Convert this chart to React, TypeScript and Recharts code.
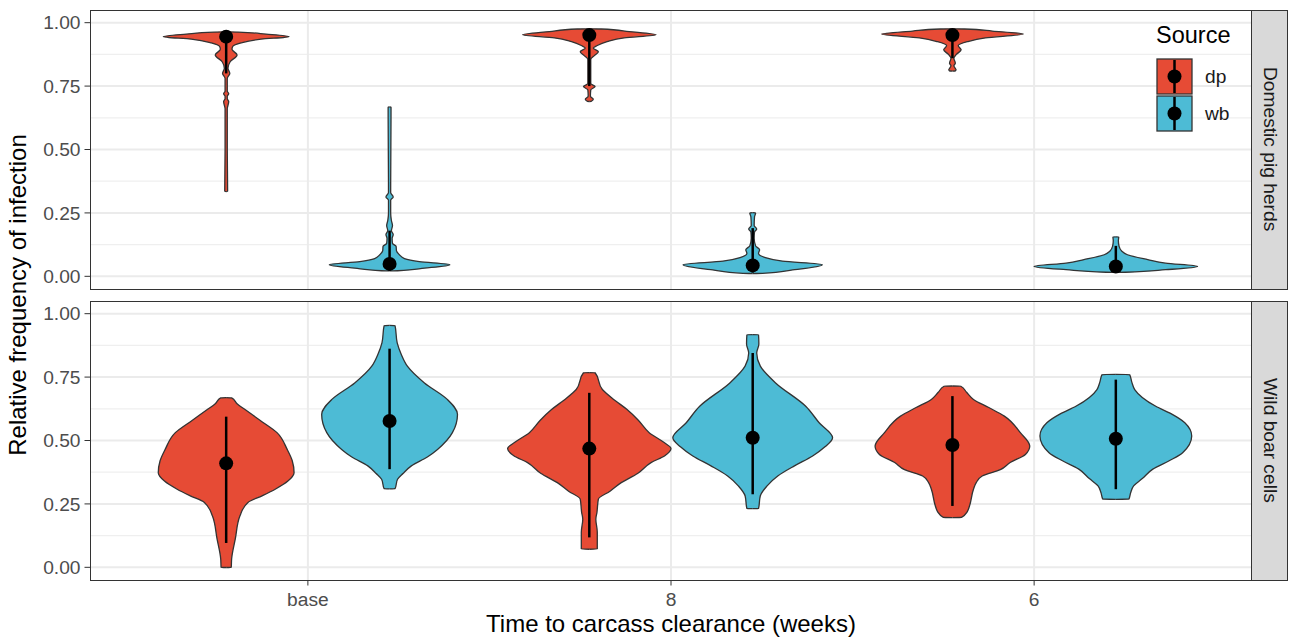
import { ComposedChart, Area, Scatter, ErrorBar, XAxis, YAxis, CartesianGrid, Legend } from "recharts";

const categories = ["base", "8", "6"];
const categoryX = [1, 2, 3];
const sources = ["dp", "wb"];
const sourceFill = ["#E64B35", "#4DBBD5"];
const facets = ["Domestic pig herds", "Wild boar cells"];
const yTicks = [0, 0.25, 0.5, 0.75, 1];
const yMinor = [0.125, 0.375, 0.625, 0.875];
const dodge = 0.225;

// violin outlines: [relative frequency, half width in x units]
const pigDpBase = [[0.335, 0.004], [0.5, 0.003], [0.66, 0.003], [0.689, 0.007], [0.7, 0.003], [0.71, 0.003], [0.72, 0.007], [0.73, 0.003], [0.78, 0.003], [0.8, 0.01], [0.82, 0.005], [0.846, 0.011], [0.873, 0.03], [0.895, 0.016], [0.906, 0.018], [0.92, 0.041], [0.935, 0.096], [0.945, 0.173], [0.955, 0.11], [0.963, 0.033]];
const pigDp8 = [[0.69, 0.005], [0.698, 0.011], [0.71, 0.003], [0.735, 0.004], [0.748, 0.016], [0.76, 0.004], [0.855, 0.004], [0.87, 0.014], [0.885, 0.025], [0.9, 0.011], [0.91, 0.022], [0.925, 0.049], [0.94, 0.096], [0.952, 0.184], [0.965, 0.11], [0.975, 0.033]];
const pigDp6 = [[0.81, 0.008], [0.814, 0.01], [0.83, 0.004], [0.84, 0.008], [0.86, 0.004], [0.875, 0.011], [0.893, 0.024], [0.91, 0.016], [0.925, 0.041], [0.94, 0.091], [0.955, 0.195], [0.967, 0.11], [0.975, 0.033]];
const pigWbBase = [[0.022, 0.022], [0.032, 0.096], [0.046, 0.166], [0.058, 0.082], [0.07, 0.041], [0.085, 0.027], [0.1, 0.019], [0.118, 0.018], [0.13, 0.008], [0.15, 0.007], [0.165, 0.01], [0.18, 0.005], [0.2, 0.008], [0.22, 0.005], [0.25, 0.003], [0.3, 0.003], [0.313, 0.01], [0.33, 0.003], [0.667, 0.004]];
const pigWb8 = [[0.012, 0.027], [0.025, 0.11], [0.046, 0.192], [0.06, 0.082], [0.075, 0.033], [0.09, 0.016], [0.105, 0.019], [0.12, 0.008], [0.15, 0.004], [0.175, 0.005], [0.187, 0.011], [0.2, 0.004], [0.235, 0.005], [0.25, 0.008]];
const pigWb6 = [[0.016, 0.027], [0.026, 0.137], [0.039, 0.225], [0.052, 0.137], [0.066, 0.088], [0.085, 0.032], [0.1, 0.016], [0.118, 0.009], [0.14, 0.007], [0.155, 0.008]];

const boarDpBase = [[0.0, 0.014], [0.033, 0.015], [0.111, 0.025], [0.203, 0.038], [0.256, 0.06], [0.282, 0.099], [0.308, 0.135], [0.34, 0.17], [0.373, 0.187], [0.42, 0.182], [0.465, 0.168], [0.531, 0.14], [0.58, 0.093], [0.622, 0.052], [0.645, 0.03], [0.668, 0.015]];
const boarDp8 = [[0.072, 0.022], [0.138, 0.022], [0.19, 0.018], [0.216, 0.021], [0.269, 0.025], [0.3, 0.057], [0.334, 0.088], [0.37, 0.133], [0.413, 0.17], [0.44, 0.208], [0.468, 0.225], [0.495, 0.203], [0.531, 0.165], [0.58, 0.135], [0.622, 0.104], [0.66, 0.069], [0.701, 0.036], [0.767, 0.016]];
const boarDp6 = [[0.197, 0.025], [0.22, 0.041], [0.242, 0.047], [0.308, 0.058], [0.335, 0.066], [0.36, 0.082], [0.385, 0.132], [0.413, 0.159], [0.445, 0.201], [0.478, 0.213], [0.531, 0.187], [0.596, 0.143], [0.63, 0.1], [0.662, 0.058], [0.69, 0.039], [0.714, 0.023]];
const boarWbBase = [[0.31, 0.015], [0.347, 0.022], [0.37, 0.037], [0.4, 0.06], [0.435, 0.104], [0.465, 0.132], [0.531, 0.173], [0.603, 0.187], [0.662, 0.159], [0.727, 0.096], [0.793, 0.049], [0.84, 0.032], [0.885, 0.021], [0.953, 0.015]];
const boarWb8 = [[0.232, 0.016], [0.282, 0.021], [0.32, 0.039], [0.36, 0.069], [0.4, 0.115], [0.439, 0.165], [0.475, 0.199], [0.511, 0.22], [0.57, 0.183], [0.635, 0.146], [0.727, 0.063], [0.793, 0.021], [0.845, 0.011], [0.88, 0.017], [0.917, 0.016]];
const boarWb6 = [[0.269, 0.036], [0.295, 0.041], [0.321, 0.049], [0.35, 0.073], [0.387, 0.102], [0.42, 0.147], [0.452, 0.184], [0.518, 0.209], [0.57, 0.19], [0.605, 0.153], [0.635, 0.11], [0.701, 0.052], [0.73, 0.044], [0.76, 0.038]];

// point ranges: [point, low, high] for base, 8, 6
const pigDpRange = [[0.945, 0.8, 0.955], [0.951, 0.75, 0.972], [0.951, 0.86, 0.97]];
const pigWbRange = [[0.049, 0.022, 0.18], [0.043, 0.015, 0.19], [0.039, 0.015, 0.12]];
const boarDpRange = [[0.41, 0.096, 0.594], [0.468, 0.118, 0.688], [0.482, 0.242, 0.675]];
const boarWbRange = [[0.577, 0.387, 0.862], [0.511, 0.288, 0.845], [0.507, 0.308, 0.74]];

function buildPanel(dp, wb, dpRange, wbRange) {
  const rows = [];
  const violins = [];
  const points = [];
  categories.forEach((cat, i) => {
    [dp[i], wb[i]].forEach((shape, j) => {
      const c = categoryX[i] + (j === 0 ? -dodge : dodge);
      const key = `${sources[j]}_${cat}`;
      violins.push({ key, fill: sourceFill[j] });
      // close the outline at both ends
      rows.push({ y: shape[0][0] - 0.0008, [key]: [c, c] });
      shape.forEach(([y, hw]) => rows.push({ y, [key]: [c - hw, c + hw] }));
      rows.push({ y: shape[shape.length - 1][0] + 0.0008, [key]: [c, c] });
      const [p, lo, hi] = (j === 0 ? dpRange : wbRange)[i];
      points.push({ x: c, y: p, err: [p - lo, hi - p] });
    });
  });
  rows.sort((a, b) => a.y - b.y);
  return { rows, violins, points };
}

const pigPanel = buildPanel([pigDpBase, pigDp8, pigDp6], [pigWbBase, pigWb8, pigWb6], pigDpRange, pigWbRange);
const boarPanel = buildPanel([boarDpBase, boarDp8, boarDp6], [boarWbBase, boarWb8, boarWb6], boarDpRange, boarWbRange);

const tickStyle = { fill: "#4D4D4D", fontSize: 19.2 };

const Dot = (p) => <circle cx={p.cx} cy={p.cy} r={7} fill="#000" />;

const LegendBox = () => (
  <svg width={110} height={125}>
    <text x={6} y={33} fontSize={23.5} fill="#000">Source</text>
    {sources.map((s, i) => (
      <g key={s}>
        <rect x={7} y={49 + i * 37} width={35} height={35} fill={sourceFill[i]} stroke="#333" strokeWidth={1.3} />
        <line x1={24.5} x2={24.5} y1={50 + i * 37} y2={83 + i * 37} stroke="#000" strokeWidth={2.5} />
        <circle cx={24.5} cy={66.5 + i * 37} r={7} fill="#000" />
        <text x={55} y={66.5 + i * 37} dy="0.35em" fontSize={19.2} fill="#1A1A1A">{s}</text>
      </g>
    ))}
  </svg>
);

function Panel({ data, height, bottomAxis, legend }) {
  return (
    <ComposedChart
      layout="vertical"
      width={1290}
      height={height}
      data={data.rows}
      margin={{ top: 10, right: 38, bottom: bottomAxis ? 0 : 1, left: 0 }}
    >
      <CartesianGrid horizontalValues={yMinor} vertical={false} stroke="#EFEFEF" strokeWidth={1.2} />
      <CartesianGrid horizontalValues={yTicks} verticalValues={categoryX} stroke="#EBEBEB" strokeWidth={2} />
      <XAxis
        type="number"
        dataKey="x"
        domain={[0.4, 3.6]}
        ticks={categoryX}
        allowDataOverflow
        hide={!bottomAxis}
        height={61}
        tickFormatter={(v) => categories[categoryX.indexOf(v)]}
        tick={tickStyle}
        tickLine={{ stroke: "#333" }}
        tickSize={5.5}
        tickMargin={7}
        axisLine={false}
        label={{ value: "Time to carcass clearance (weeks)", position: "insideBottom", offset: 9, fill: "#000", fontSize: 24 }}
      />
      <YAxis
        type="number"
        dataKey="y"
        reversed
        domain={[-0.05, 1.05]}
        ticks={yTicks}
        allowDataOverflow
        width={90}
        tickFormatter={(v) => v.toFixed(2)}
        tick={tickStyle}
        tickLine={{ stroke: "#333" }}
        tickSize={5.5}
        tickMargin={4}
        axisLine={false}
      />
      {data.violins.map((v) => (
        <Area
          key={v.key}
          type="monotone"
          dataKey={(row) => row[v.key] ?? [null, null]}
          connectNulls
          fill={v.fill}
          fillOpacity={1}
          stroke="#333"
          strokeWidth={1.3}
          dot={false}
          activeDot={false}
          isAnimationActive={false}
        />
      ))}
      <Scatter data={data.points} shape={Dot} isAnimationActive={false}>
        <ErrorBar dataKey="err" direction="y" width={0} stroke="#000" strokeWidth={2.5} isAnimationActive={false} />
      </Scatter>
      {legend && (
        <Legend
          layout="vertical"
          align="center"
          verticalAlign="middle"
          wrapperStyle={{ top: 10, left: 1150, width: 110, height: 125 }}
          content={() => <LegendBox />}
        />
      )}
    </ComposedChart>
  );
}

const stripStyle = {
  position: "absolute",
  left: 1251,
  width: 37,
  height: 280,
  boxSizing: "border-box",
  background: "#D9D9D9",
  border: "1.3px solid #333",
  writingMode: "vertical-rl",
  display: "flex",
  alignItems: "center",
  justifyContent: "center",
  fontSize: 19.2,
  color: "#1A1A1A",
};

const borderStyle = {
  position: "absolute",
  left: 89.5,
  width: 1162,
  height: 280,
  boxSizing: "border-box",
  border: "1.3px solid #333",
  pointerEvents: "none",
};

export default function App() {
  return (
    <div style={{ position: "absolute", left: 0, top: 0, width: 1290, height: 641, background: "#fff", fontFamily: "'Liberation Sans', Arial, sans-serif", overflow: "hidden" }}>
      <div style={{ position: "absolute", left: 0, top: 0 }}>
        <Panel data={pigPanel} height={290} bottomAxis={false} legend />
      </div>
      <div style={{ position: "absolute", left: 0, top: 291 }}>
        <Panel data={boarPanel} height={350} bottomAxis legend={false} />
      </div>
      <div style={{ ...borderStyle, top: 9.5 }} />
      <div style={{ ...borderStyle, top: 300.5 }} />
      <div style={{ ...stripStyle, top: 9.5 }}>{facets[0]}</div>
      <div style={{ ...stripStyle, top: 300.5 }}>{facets[1]}</div>
      <div style={{ position: "absolute", left: 18 - 300, top: 295 - 14, width: 600, height: 28, lineHeight: "28px", textAlign: "center", transform: "rotate(-90deg)", fontSize: 24, color: "#000" }}>
        Relative frequency of infection
      </div>
    </div>
  );
}
